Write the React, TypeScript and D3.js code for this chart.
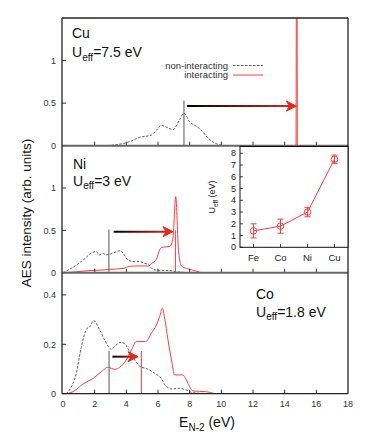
import React from "react";
import * as d3 from "d3";

// ---------- data ----------
const cuNonX = [2.3, 3.0, 3.5, 4.0, 4.5, 4.85, 5.2, 5.58, 5.9, 6.2, 6.5, 6.95, 7.35, 7.64, 8.0, 8.4, 8.75, 9.15, 9.55, 9.9, 10.3];
const cuNonY = [0, 0.004, 0.015, 0.035, 0.07, 0.1, 0.11, 0.125, 0.18, 0.24, 0.22, 0.19, 0.3, 0.38, 0.28, 0.23, 0.18, 0.09, 0.035, 0.01, 0];
const cuIntX = [0, 14.72, 14.76, 14.8, 18];
const cuIntY = [0, 0, 4, 0, 0];

const niNonX = [0, 0.5, 1.0, 1.4, 1.7, 2.1, 2.3, 2.5, 2.75, 3.15, 3.6, 3.8, 4.1, 4.5, 4.85, 5.15, 5.4, 5.6, 5.9, 6.7, 7.3, 7.8];
const niNonY = [0, 0.05, 0.11, 0.17, 0.22, 0.25, 0.21, 0.23, 0.21, 0.23, 0.26, 0.23, 0.15, 0.13, 0.13, 0.11, 0.1, 0.05, 0.03, 0.025, 0.01, 0];
const niIntX = [0, 0.8, 1.7, 2.3, 3.0, 3.8, 4.2, 4.85, 5.4, 5.6, 5.9, 6.1, 6.25, 6.75, 6.95, 7.12, 7.3, 7.48, 7.8, 8.2, 8.75];
const niIntY = [0, 0.01, 0.025, 0.03, 0.04, 0.05, 0.075, 0.08, 0.08, 0.11, 0.16, 0.27, 0.3, 0.31, 0.42, 0.9, 0.25, 0.08, 0.05, 0.03, 0];

const coNonX = [0.2, 0.53, 0.84, 1.16, 1.52, 1.68, 1.94, 2.32, 2.63, 3.05, 3.35, 3.66, 3.94, 4.2, 4.53, 4.84, 5.37, 5.79, 6.2, 6.5, 6.92, 7.35, 7.79, 8.2, 9.5];
const coNonY = [0, 0.028, 0.083, 0.19, 0.265, 0.27, 0.296, 0.258, 0.218, 0.18, 0.197, 0.208, 0.2, 0.17, 0.137, 0.112, 0.099, 0.083, 0.062, 0.031, 0.019, 0.022, 0.015, 0.004, 0];
const coIntX = [0.1, 0.63, 1.26, 1.9, 2.5, 2.82, 3.27, 3.58, 4.0, 4.32, 4.64, 5.22, 5.58, 5.9, 6.1, 6.28, 6.42, 6.63, 6.85, 7.05, 7.54, 7.79, 8.0, 8.21, 9.05, 9.6];
const coIntY = [0, 0.008, 0.039, 0.062, 0.093, 0.107, 0.099, 0.107, 0.137, 0.177, 0.211, 0.211, 0.245, 0.278, 0.312, 0.346, 0.306, 0.218, 0.137, 0.076, 0.076, 0.056, 0.028, 0.011, 0.008, 0];

// markers: [grey line x, grey top, red line x or null, red top, arrow x0, arrow x1, arrow y]
const cuMarks = [7.64, 0.53, null, 0, 7.83, 14.74, 0.465];
const niMarks = [2.9, 0.51, 7.1, 0.5, 3.2, 6.95, 0.485];
const coMarks = [2.91, 0.173, 4.95, 0.173, 3.12, 4.74, 0.15];

const xTicks = [0, 2, 4, 6, 8, 10, 12, 14, 16, 18];
const bigYTicks = [0, 0.5, 1];
const smallYTicks = [0, 0.2, 0.4];

const insetCats = ["Fe", "Co", "Ni", "Cu"];
const insetU = [1.4, 1.8, 3.0, 7.5];
const insetErr = [0.6, 0.6, 0.4, 0.35];
const insetYTicks = [0, 1, 2, 3, 4, 5, 6, 7, 8];

// ---------- layout ----------
const FONT = "'Liberation Sans', Arial, Helvetica, sans-serif";
const RED = "#ff3b3b";
const X0 = 62;
const X1 = 348;

const x = d3.scaleLinear().domain([0, 18]).range([63, 348]);

const panels = [
  { name: "Cu", y: d3.scaleLinear().domain([0, 1.5]).range([145.7, 18]), ticks: bigYTicks, nx: cuNonX, ny: cuNonY, ix: cuIntX, iy: cuIntY, marks: cuMarks, sharp: true },
  { name: "Ni", y: d3.scaleLinear().domain([0, 1.5]).range([272.7, 145.7]), ticks: bigYTicks, nx: niNonX, ny: niNonY, ix: niIntX, iy: niIntY, marks: niMarks, sharp: false },
  { name: "Co", y: d3.scaleLinear().domain([0, 0.49]).range([393.7, 272.7]), ticks: smallYTicks, nx: coNonX, ny: coNonY, ix: coIntX, iy: coIntY, marks: coMarks, sharp: false },
];

const ix = d3.scaleLinear().domain([-0.5, 3.5]).range([240, 348]);
const iy = d3.scaleLinear().domain([0, 8]).range([247.3, 153.3]);

function Ueff({ xp, yp, value, size = 14 }: { xp: number; yp: number; value: string; size?: number }) {
  return (
    <text x={xp} y={yp} fontSize={size} fontFamily={FONT} fill="#111">
      U<tspan fontSize={size * 0.72} dy={size * 0.25}>eff</tspan>
      <tspan dy={-size * 0.25}>{value}</tspan>
    </text>
  );
}

export default function App() {
  const line = (xs: number[], ys: number[], ysc: d3.ScaleLinear<number, number>, sharp = false) =>
    d3
      .line<number>()
      .x((_, i) => x(xs[i]))
      .y((_, i) => ysc(ys[i]))
      .curve(sharp ? d3.curveLinear : d3.curveMonotoneX)(xs) || "";

  const insetLine = d3.line<number>().x((_, i) => ix(i)).y((d) => iy(d))(insetU) || "";

  return (
    <svg width={374} height={440} style={{ position: "absolute", left: 0, top: 0, background: "#fff" }}>
      <defs>
        {panels.map((p, k) => {
          const m = p.marks as (number | null)[];
          return (
            <linearGradient key={k} id={`grad${k}`} gradientUnits="userSpaceOnUse" x1={x(m[4] as number)} x2={x(m[5] as number)} y1={0} y2={0}>
              <stop offset="0%" stopColor="#000" />
              <stop offset="100%" stopColor="#e8281c" />
            </linearGradient>
          );
        })}
        {panels.map((p, k) => (
          <clipPath key={k} id={`clip${k}`}>
            <rect x={X0} y={p.y.range()[1]} width={X1 - X0} height={p.y.range()[0] - p.y.range()[1]} />
          </clipPath>
        ))}
      </defs>

      {panels.map((p, k) => {
        const m = p.marks as (number | null)[];
        const yb = p.y.range()[0];
        const yt = p.y.range()[1];
        const ax0 = x(m[4] as number);
        const ax1 = x(m[5] as number);
        const ay = p.y(m[6] as number);
        return (
          <g key={k}>
            <g clipPath={`url(#clip${k})`}>
              <path d={line(p.ix, p.iy, p.y, p.sharp)} fill="none" stroke={RED} strokeWidth={1} />
              <path d={line(p.nx, p.ny, p.y)} fill="none" stroke="#333" strokeWidth={0.8} strokeDasharray="2.5,1.5" />
            </g>
            {/* vertical markers */}
            <line x1={x(m[0] as number)} x2={x(m[0] as number)} y1={yb} y2={p.y(m[1] as number)} stroke="#555" strokeWidth={1} />
            {m[2] !== null && (
              <line x1={x(m[2] as number)} x2={x(m[2] as number)} y1={yb} y2={p.y(m[3] as number)} stroke={RED} strokeWidth={1} />
            )}
            {/* arrow */}
            <line x1={ax0} x2={ax1 - 6} y1={ay} y2={ay} stroke={`url(#grad${k})`} strokeWidth={2} />
            <path
              d={`M${ax1},${ay} L${ax1 - 10},${ay - 5} L${ax1 - 7},${ay} L${ax1 - 10},${ay + 5} Z`}
              fill="#e8281c"
              stroke="#e8281c"
              strokeWidth={1}
              strokeLinejoin="miter"
            />
            {/* x ticks */}
            {xTicks.slice(1, -1).map((t) => (
              <line key={t} x1={x(t)} x2={x(t)} y1={yb} y2={yb - 4} stroke="#333" strokeWidth={1} />
            ))}
            {/* y ticks + labels */}
            {p.ticks.map((t) => (
              <g key={t}>
                <line x1={X0} x2={X0 + 4} y1={p.y(t)} y2={p.y(t)} stroke="#333" strokeWidth={1} />
                <text x={56} y={p.y(t) + 3.2} textAnchor="end" fontSize={9} fontFamily={FONT} fill="#333">
                  {String(t)}
                </text>
              </g>
            ))}
            {/* panel bottom separator */}
            <line x1={X0} x2={X1} y1={yb} y2={yb} stroke={k === 2 ? "#222" : "#666"} strokeWidth={k === 2 ? 1.3 : 2} />
            {k === 0 && <line x1={X0} x2={X1} y1={yt} y2={yt} stroke="#222" strokeWidth={1.3} />}
          </g>
        );
      })}

      {/* outer frame sides */}
      <line x1={X0} x2={X0} y1={18} y2={393.7} stroke="#222" strokeWidth={1.3} />
      <line x1={X1} x2={X1} y1={18} y2={393.7} stroke="#222" strokeWidth={1.3} />

      {/* panel labels */}
      <text x={72} y={38} fontSize={14} fontFamily={FONT} fill="#111">Cu</text>
      <Ueff xp={72} yp={57} value="=7.5 eV" />
      <text x={73} y={169} fontSize={14} fontFamily={FONT} fill="#111">Ni</text>
      <Ueff xp={73} yp={185.5} value="=3 eV" />
      <text x={256} y={299} fontSize={14} fontFamily={FONT} fill="#111">Co</text>
      <Ueff xp={256} yp={316.5} value="=1.8 eV" />

      {/* legend */}
      <text x={228} y={68.5} textAnchor="end" fontSize={9.5} fontFamily={FONT} fill="#333">non-interacting</text>
      <line x1={233} x2={263} y1={65.5} y2={65.5} stroke="#333" strokeWidth={0.8} strokeDasharray="2.5,1.5" />
      <text x={228} y={78} textAnchor="end" fontSize={9.5} fontFamily={FONT} fill="#333">interacting</text>
      <line x1={233} x2={263} y1={75} y2={75} stroke={RED} strokeWidth={1} />

      {/* x tick labels */}
      {xTicks.map((t) => (
        <text key={t} x={x(t)} y={407} textAnchor="middle" fontSize={9} fontFamily={FONT} fill="#333">{t}</text>
      ))}

      {/* axis titles */}
      <text x={207} y={427} textAnchor="middle" fontSize={14} fontFamily={FONT} fill="#111">
        E<tspan fontSize={10} dy={3.5}>N-2</tspan>
        <tspan dy={-3.5}> (eV)</tspan>
      </text>
      <text transform="translate(31,213) rotate(-90)" textAnchor="middle" fontSize={13.5} fontFamily={FONT} fill="#111">
        AES intensity (arb. units)
      </text>

      {/* inset */}
      <g>
        <rect x={240} y={146.5} width={108} height={100.8} fill="#fff" stroke="#111" strokeWidth={1} />
        {insetYTicks.map((t) => (
          <g key={t}>
            <line x1={240} x2={243} y1={iy(t)} y2={iy(t)} stroke="#111" strokeWidth={0.8} />
            <text x={236} y={iy(t) + 3} textAnchor="end" fontSize={9} fontFamily={FONT} fill="#222">{t}</text>
          </g>
        ))}
        {insetCats.map((c, i) => (
          <g key={c}>
            <line x1={ix(i)} x2={ix(i)} y1={247.3} y2={244} stroke="#111" strokeWidth={0.8} />
            <text x={ix(i)} y={261} textAnchor="middle" fontSize={9.5} fontFamily={FONT} fill="#222">{c}</text>
          </g>
        ))}
        <path d={insetLine} fill="none" stroke={RED} strokeWidth={1} />
        {insetU.map((u, i) => (
          <g key={i} stroke={RED} strokeWidth={1} fill="none">
            <line x1={ix(i)} x2={ix(i)} y1={iy(u - insetErr[i])} y2={iy(u + insetErr[i])} />
            <line x1={ix(i) - 3} x2={ix(i) + 3} y1={iy(u - insetErr[i])} y2={iy(u - insetErr[i])} />
            <line x1={ix(i) - 3} x2={ix(i) + 3} y1={iy(u + insetErr[i])} y2={iy(u + insetErr[i])} />
            <circle cx={ix(i)} cy={iy(u)} r={3.3} />
          </g>
        ))}
        <text transform="translate(215,197) rotate(-90)" textAnchor="middle" fontSize={9} fontFamily={FONT} fill="#222">
          U<tspan fontSize={6.5} dy={2.5}>eff</tspan>
          <tspan dy={-2.5}> (eV)</tspan>
        </text>
      </g>
    </svg>
  );
}
